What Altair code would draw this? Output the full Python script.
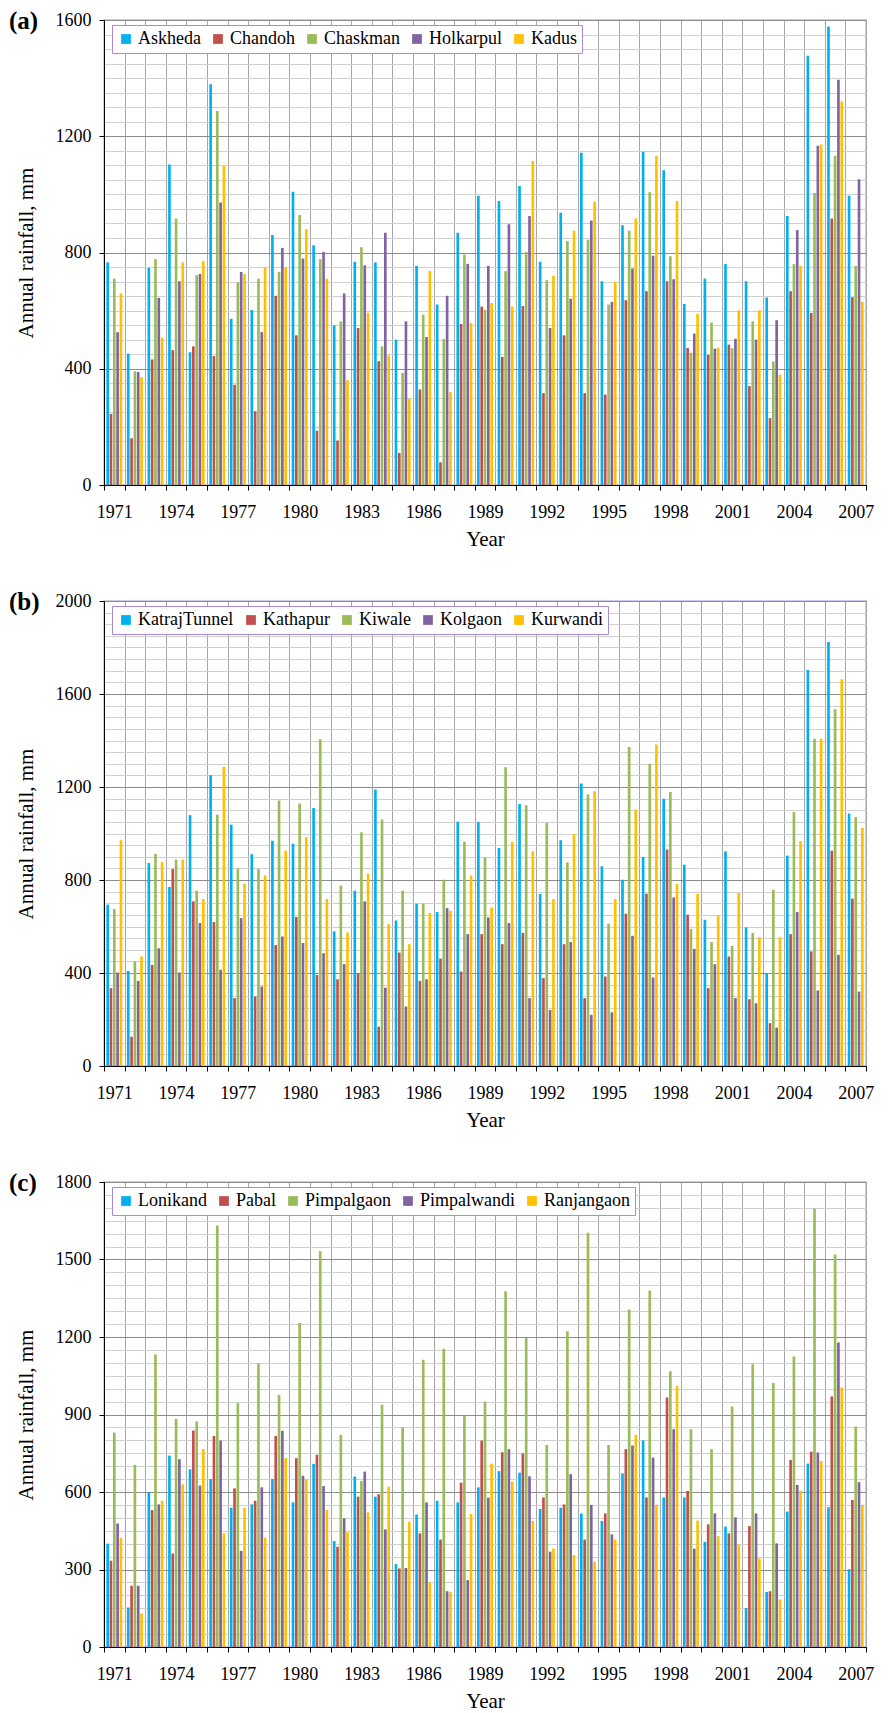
import altair as alt
import pandas as pd

SERIF = "Liberation Serif"
years = [str(y) for y in range(1971, 2008)]
colors = ["#00B0F0", "#C0504D", "#9BBB59", "#8064A2", "#FFC000"]

# ---------- panel (a) ----------
stations_a = ["Askheda", "Chandoh", "Chaskman", "Holkarpul", "Kadus"]
askheda = [766, 452, 747, 1103, 457, 1379, 572, 602, 860, 1009, 825, 549, 768, 766, 500, 754, 621, 868,
           995, 977, 1029, 768, 937, 1143, 701, 894, 1147, 1083, 623, 710, 760, 701, 645, 926, 1477, 1578, 995]
chandoh = [245, 161, 432, 464, 477, 444, 345, 254, 651, 515, 187, 153, 540, 426, 110, 329, 78, 554,
           614, 441, 616, 316, 515, 316, 311, 636, 667, 701, 472, 448, 483, 340, 230, 667, 592, 917, 646]
chaskman = [710, 391, 777, 917, 722, 1287, 697, 710, 733, 929, 777, 563, 818, 477, 386, 586, 503, 793,
            603, 736, 802, 705, 839, 844, 621, 875, 1007, 787, 455, 559, 471, 563, 425, 760, 1005, 1133, 754]
holkarpul = [526, 389, 644, 701, 726, 972, 733, 526, 816, 779, 802, 659, 756, 868, 563, 509, 651, 761,
             754, 897, 926, 540, 641, 910, 630, 745, 789, 708, 521, 469, 503, 500, 567, 877, 1167, 1394, 1052]
kadus = [659, 371, 507, 766, 770, 1098, 726, 748, 748, 880, 710, 360, 593, 446, 297, 736, 320, 557,
         626, 614, 1115, 720, 875, 975, 699, 917, 1133, 977, 589, 472, 601, 601, 380, 754, 1172, 1320, 630]

# ---------- panel (b) ----------
stations_b = ["KatrajTunnel", "Kathapur", "Kiwale", "Kolgaon", "Kurwandi"]
katraj = [694, 409, 873, 770, 1079, 1251, 1038, 911, 969, 956, 1110, 579, 754, 1189, 626, 698, 662, 1051,
          1050, 938, 1127, 740, 971, 1215, 859, 801, 899, 1149, 866, 629, 923, 596, 399, 905, 1703, 1824, 1086]
kathapur = [335, 126, 435, 847, 708, 619, 292, 299, 520, 641, 391, 373, 399, 169, 488, 366, 462, 406,
            567, 524, 572, 378, 524, 292, 385, 655, 741, 931, 651, 335, 471, 287, 184, 567, 493, 926, 720]
kiwale = [675, 450, 912, 888, 754, 1081, 849, 847, 1142, 1129, 1405, 776, 1005, 1060, 754, 698, 801, 964,
          898, 1285, 1122, 1046, 876, 1168, 612, 1372, 1300, 1179, 589, 533, 517, 572, 758, 1092, 1407, 1534, 1071]
kolgaon = [402, 366, 506, 402, 615, 414, 636, 342, 557, 529, 485, 438, 708, 337, 256, 373, 679, 567,
           639, 615, 292, 241, 533, 220, 231, 560, 381, 725, 504, 438, 292, 270, 165, 662, 325, 478, 320]
kurwandi = [971, 471, 877, 888, 718, 1287, 784, 820, 926, 985, 718, 574, 827, 610, 524, 658, 668, 819,
            682, 964, 923, 718, 998, 1182, 718, 1103, 1383, 783, 740, 648, 744, 554, 554, 967, 1407, 1663, 1024]

# ---------- panel (c) ----------
stations_c = ["Lonikand", "Pabal", "Pimpalgaon", "Pimpalwandi", "Ranjangaon"]
lonikand = [400, 153, 599, 741, 688, 650, 539, 552, 650, 560, 709, 410, 660, 582, 321, 513, 566, 560,
            618, 681, 675, 534, 539, 517, 488, 672, 800, 579, 579, 407, 466, 151, 213, 524, 710, 541, 301]
pabal = [334, 237, 530, 362, 838, 817, 614, 566, 817, 731, 744, 388, 582, 591, 304, 440, 416, 636,
         799, 754, 749, 579, 552, 416, 517, 766, 579, 966, 604, 475, 440, 468, 216, 724, 756, 970, 569]
pimpalgaon = [830, 705, 1132, 883, 873, 1632, 944, 1097, 976, 1254, 1532, 821, 643, 938, 850, 1112, 1155, 895,
              950, 1377, 1196, 782, 1222, 1604, 782, 1306, 1380, 1067, 843, 766, 931, 1095, 1022, 1125, 1697, 1519, 853]
pimpalwandi = [478, 237, 552, 727, 625, 799, 372, 618, 837, 663, 623, 498, 679, 455, 306, 560, 216, 259,
               578, 766, 661, 369, 669, 550, 436, 780, 733, 843, 381, 517, 502, 517, 401, 627, 753, 1179, 638]
ranjangaon = [423, 129, 566, 630, 766, 440, 539, 423, 731, 649, 530, 444, 521, 621, 485, 250, 213, 515,
              710, 640, 488, 381, 356, 330, 416, 821, 550, 1011, 489, 429, 397, 343, 184, 605, 720, 1005, 550]

PURPLE = "#A98BDA"


def panel(label, stations, series, ymax, major):
    rows = []
    for s, vals in zip(stations, series):
        for y, v in zip(years, vals):
            rows.append({"Year": y, "Station": s, "Rainfall": v})
    df = pd.DataFrame(rows)
    grid_vals = list(range(0, ymax + 1, 50))
    test = f"datum.value % {major} === 0"
    bars = alt.Chart(df).mark_bar().encode(
        x=alt.X("Year:N", sort=years,
                scale=alt.Scale(paddingInner=0, paddingOuter=0),
                axis=alt.Axis(title="Year", labelAngle=0, tickBand="extent", grid=True,
                              gridColor="#a6a6a6", gridWidth=1,
                              labelExpr="(toNumber(datum.value) - 1971) % 3 === 0 ? datum.label : ''",
                              labelPadding=13, titlePadding=7, tickSize=5)),
        xOffset=alt.XOffset("Station:N", sort=stations,
                            scale=alt.Scale(paddingInner=0.2, paddingOuter=0.7)),
        y=alt.Y("Rainfall:Q", scale=alt.Scale(domain=[0, ymax], nice=False),
                axis=alt.Axis(title="Annual rainfall, mm", values=grid_vals, format="d",
                              labelExpr=f"{test} ? datum.label : ''", labelOverlap=False,
                              gridColor=alt.condition(test, alt.value("#8c8c8c"), alt.value("#d0d0d0")),
                              tickOpacity=alt.condition(test, alt.value(1), alt.value(0)),
                              tickSize=5, labelPadding=8, titlePadding=19)),
        color=alt.Color("Station:N", sort=stations,
                        scale=alt.Scale(domain=stations, range=colors),
                        legend=alt.Legend(title=None, orient="none", legendX=8, legendY=5,
                                          direction="horizontal",
                                          symbolType="square", symbolSize=95,
                                          symbolStrokeWidth=0, labelFont=SERIF, labelFontSize=18,
                                          labelColor="black", strokeColor=PURPLE, fillColor="white",
                                          padding=5, columnPadding=8, labelOffset=3)),
    )
    tag = alt.Chart(pd.DataFrame({"tag": [label]})).mark_text(
        font=SERIF, fontSize=25, fontWeight="bold", color="black",
        align="left", baseline="middle",
    ).encode(x=alt.value(-95), y=alt.value(1), text="tag:N")
    return alt.layer(bars, tag).properties(width=762, height=465)


pa = panel("(a)", stations_a, [askheda, chandoh, chaskman, holkarpul, kadus], 1600, 400)
pb = panel("(b)", stations_b, [katraj, kathapur, kiwale, kolgaon, kurwandi], 2000, 400)
pc = panel("(c)", stations_c, [lonikand, pabal, pimpalgaon, pimpalwandi, ranjangaon], 1800, 300)

chart = alt.vconcat(pa, pb, pc, spacing=39).resolve_scale(
    color="independent", x="independent", y="independent", xOffset="independent"
).resolve_legend(color="independent").configure(background="white", padding=0).configure_axis(
    labelFont=SERIF, titleFont=SERIF, labelFontSize=18, titleFontSize=21,
    titleFontWeight="normal", labelColor="black", titleColor="black",
    domainColor="black", tickColor="black",
).configure_view(stroke=PURPLE, strokeWidth=1.3)

chart.save("out.html", embed_options={"renderer": "svg", "actions": False})
